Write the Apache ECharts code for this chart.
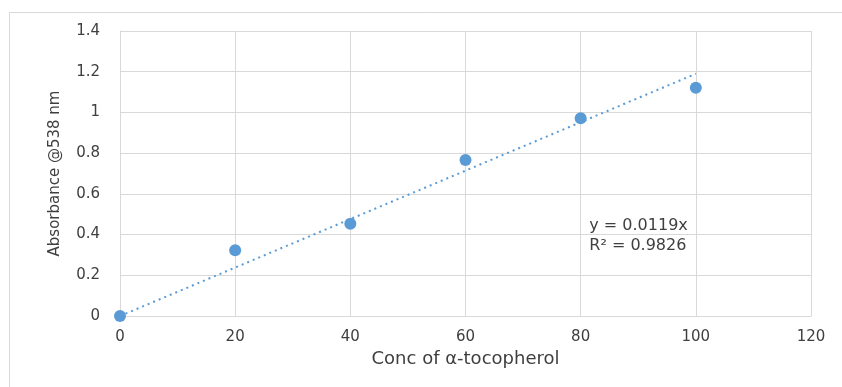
<!DOCTYPE html>
<html>
<head>
<meta charset="utf-8">
<script src="https://cdn.jsdelivr.net/npm/echarts@6/dist/echarts.min.js"></script>
<style>
html,body{margin:0;padding:0;background:#fff;}
#chart{width:842px;height:387px;}
</style>
</head>
<body>
<div id="chart"></div>
<script>
// Data
const concValues = [0, 20, 40, 60, 80, 100];
const absorbanceValues = [0, 0.323, 0.453, 0.766, 0.971, 1.121];
const trendX = [0, 100];
const trendY = [0, 1.19];
const xTicks = [0, 20, 40, 60, 80, 100, 120];
const yTicks = [0, 0.2, 0.4, 0.6, 0.8, 1, 1.2, 1.4];
const equationText = ['y = 0.0119x', 'R² = 0.9826'];

const points = concValues.map((x, i) => [x, absorbanceValues[i]]);
const trend = trendX.map((x, i) => [x, trendY[i]]);

const font = '"DejaVu Sans", "Open Sans", sans-serif';
const textColor = '#3f3f3f';

const chart = echarts.init(document.getElementById('chart'), null, {renderer: 'canvas'});
chart.setOption({
  animation: false,
  backgroundColor: '#fff',
  grid: {left: 120, right: 31, top: 31, bottom: 71},
  xAxis: {
    type: 'value',
    min: xTicks[0], max: xTicks[xTicks.length - 1], interval: 20,
    name: 'Conc of α-tocopherol',
    nameLocation: 'middle', nameGap: 29,
    nameTextStyle: {fontFamily: font, fontSize: 18, color: textColor},
    axisLine: {show: true, lineStyle: {color: '#d9d9d9', width: 1}},
    axisTick: {show: false},
    axisLabel: {fontFamily: font, fontSize: 15, color: textColor, margin: 14},
    splitLine: {show: true, lineStyle: {color: '#d9d9d9', width: 1}}
  },
  yAxis: {
    type: 'value',
    min: yTicks[0], max: yTicks[yTicks.length - 1], interval: 0.2,
    name: 'Absorbance @538 nm',
    nameLocation: 'middle', nameGap: 57, nameRotate: 90,
    nameTextStyle: {fontFamily: font, fontSize: 15, color: textColor},
    axisLine: {show: true, lineStyle: {color: '#d9d9d9', width: 1}},
    axisTick: {show: false},
    axisLabel: {fontFamily: font, fontSize: 15, color: textColor, margin: 20,
      formatter: v => String(Math.round(v * 10) / 10)},
    splitLine: {show: true, lineStyle: {color: '#d9d9d9', width: 1}}
  },
  series: [
    {
      type: 'line',
      data: trend,
      showSymbol: false,
      symbol: 'none',
      lineStyle: {color: '#5B9BD5', width: 2, type: [2, 4]},
      z: 2,
      silent: true
    },
    {
      type: 'scatter',
      data: points,
      symbol: 'circle',
      symbolSize: 12,
      itemStyle: {color: '#5B9BD5', opacity: 1},
      z: 3
    }
  ]
});

const p = chart.convertToPixel({gridIndex: 0}, [81.5, 0.4]);
chart.setOption({
  graphic: [{
    type: 'rect',
    shape: {x: 9.5, y: 12.5, width: 900, height: 400},
    style: {fill: 'none', stroke: '#d9d9d9', lineWidth: 1},
    silent: true
  }, {
    type: 'text',
    x: p[0], y: p[1] - 19,
    style: {text: equationText.join('\n'), fontFamily: font, fontSize: 16, fill: textColor, lineHeight: 20, verticalAlign: 'top'},
    silent: true
  }]
});
</script>
</body>
</html>
